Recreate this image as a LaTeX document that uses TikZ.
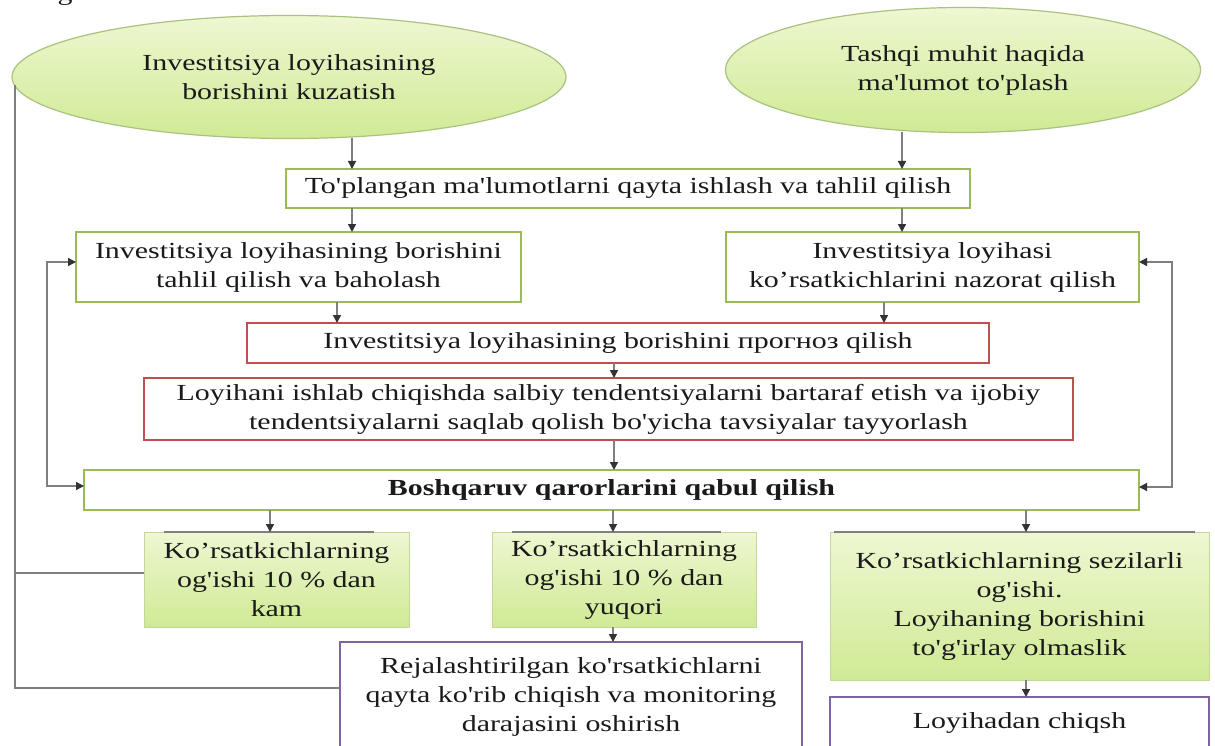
\documentclass[tikz,border=0pt]{standalone}
\usepackage{fontspec}
\newfontfamily\uzfont[FakeStretch=1.3]{Liberation Serif}
\usetikzlibrary{arrows.meta,shapes.geometric}
\definecolor{grn}{HTML}{9BBB59}
\definecolor{redb}{HTML}{C0504D}
\definecolor{pur}{HTML}{8064A2}
\definecolor{lnc}{HTML}{7F7F7F}
\definecolor{txt}{HTML}{1A1A1A}
\definecolor{gtop}{HTML}{EEF7D2}
\definecolor{gbot}{HTML}{D0EA95}
\definecolor{eline}{HTML}{A9C27E}
\begin{document}
\begin{tikzpicture}[x=1pt,y=-1pt,
 every node/.style={font=\uzfont\fontsize{23}{29}\selectfont, text=txt, inner sep=0pt, outer sep=0pt, align=center},
 ell/.style={ellipse, draw=eline, line width=1.2pt, top color=gtop, bottom color=gbot},
 wbox/.style={rectangle, draw=grn, line width=2pt, fill=white},
 rbox/.style={rectangle, draw=redb, line width=1.8pt, fill=white},
 pbox/.style={rectangle, draw=pur, line width=2pt, fill=white},
 gbox/.style={rectangle, draw=grn!60!white, line width=1pt, top color=gtop, bottom color=gbot},
 tip/.tip={Triangle[length=8pt,width=8pt,color=black!80]},
 arr/.style={draw=lnc, line width=1.5pt, -tip},
 arrb/.style={draw=lnc, line width=1.5pt, tip-tip},
 ln/.style={draw=lnc, line width=1.5pt},
 topln/.style={draw=black!50, line width=2pt}]
\fill[white] (0,0) rectangle (1215,746);
\useasboundingbox (0,0) rectangle (1215,746);
\node[anchor=base] (frag) at (65,1) {g};
% ellipses
\node[ell, minimum width=554pt, minimum height=123pt] (lell) at (289,77) {Investitsiya loyihasining\\borishini kuzatish};
\node[ell, minimum width=475pt, minimum height=125pt] (rell) at (963,70) {Tashqi muhit haqida\\ma'lumot to'plash};
% boxes
\node[wbox, minimum width=684pt, minimum height=39pt] (top) at (628,188.5) {To'plangan ma'lumotlarni qayta ishlash va tahlil qilish};
\node[wbox, minimum width=445pt, minimum height=70pt] (lbox) at (298.5,267) {Investitsiya loyihasining borishini\\tahlil qilish va baholash};
\node[wbox, minimum width=413pt, minimum height=70pt] (rbox) at (932.5,267) {Investitsiya loyihasi\\ko’rsatkichlarini nazorat qilish};
\node[rbox, minimum width=742pt, minimum height=40pt] (prog) at (618,343) {Investitsiya loyihasining borishini прогноз qilish};
\node[rbox, minimum width=929pt, minimum height=62pt] (loyi) at (608.5,409) {Loyihani ishlab chiqishda salbiy tendentsiyalarni bartaraf etish va ijobiy\\tendentsiyalarni saqlab qolish bo'yicha tavsiyalar tayyorlash};
\node[wbox, minimum width=1055pt, minimum height=40pt] (bosh) at (611.5,490) {\bfseries Boshqaruv qarorlarini qabul qilish};
\node[gbox, minimum width=265pt, minimum height=95pt] (kam) at (276.5,579.5) {Ko’rsatkichlarning\\og'ishi 10 \% dan\\kam};
\node[gbox, minimum width=264pt, minimum height=95pt] (yuq) at (624,579.5) {Ko’rsatkichlarning\\og'ishi 10 \% dan\\yuqori};
\node[gbox, minimum width=379pt, minimum height=148pt] (sez) at (1019.5,606) {Ko’rsatkichlarning sezilarli\\og'ishi.\\Loyihaning borishini\\to'g'irlay olmaslik};
\node[pbox, minimum width=462pt, minimum height=110pt] (rej) at (571,697) {Rejalashtirilgan ko'rsatkichlarni\\qayta ko'rib chiqish va monitoring\\darajasini oshirish};
\node[pbox, minimum width=379pt, minimum height=52pt] (lch) at (1019.5,723) {Loyihadan chiqsh};
% gray top edges of green boxes
\draw[topln] ([xshift=20pt]kam.north west) -- ([xshift=-35pt]kam.north east);
\draw[topln] ([xshift=20pt]yuq.north west) -- ([xshift=-35pt]yuq.north east);
\draw[topln] ([xshift=4pt]sez.north west) -- ([xshift=-14pt]sez.north east);
% connectors
\draw[arr] ([xshift=63pt]lell.south) -- ([xshift=63pt]lell.south |- top.north);
\draw[arr] ([xshift=-61pt]rell.south) -- ([xshift=-61pt]rell.south |- top.north);
\draw[arr] ([xshift=-276pt]top.south) -- ([xshift=-276pt]top.south |- lbox.north);
\draw[arr] ([xshift=274pt]top.south) -- ([xshift=274pt]top.south |- rbox.north);
\draw[arr] ([xshift=38.5pt]lbox.south) -- ([xshift=38.5pt]lbox.south |- prog.north);
\draw[arr] ([xshift=-48.5pt]rbox.south) -- ([xshift=-48.5pt]rbox.south |- prog.north);
\draw[arr] ([xshift=-4pt]prog.south) -- ([xshift=-4pt]prog.south |- loyi.north);
\draw[arr] ([xshift=5.5pt]loyi.south) -- ([xshift=5.5pt]loyi.south |- bosh.north);
\draw[arr] ([xshift=-6.5pt]kam.north |- bosh.south) -- ([xshift=-6.5pt]kam.north);
\draw[arr] ([xshift=-11pt]yuq.north |- bosh.south) -- ([xshift=-11pt]yuq.north);
\draw[arr] ([xshift=6.5pt]sez.north |- bosh.south) -- ([xshift=6.5pt]sez.north);
\draw[arr] ([xshift=-11pt]yuq.south) -- ([xshift=-11pt]yuq.south |- rej.north);
\draw[arr] ([xshift=6.5pt]sez.south) -- ([xshift=6.5pt]sez.south |- lch.north);
% feedback loops
\draw[arrb] ([yshift=5pt]lbox.west) -- ++(-29,0) |- ([yshift=4pt]bosh.west);
\draw[arrb] ([yshift=5pt]rbox.east) -- ++(33,0) |- ([yshift=3pt]bosh.east);
% outer left line
\draw[ln] ([xshift=3pt,yshift=-8pt]lell.west) |- ([yshift=9pt]rej.west);
\draw[ln] ([yshift=6.5pt]kam.west) -- ++(-129,0);
\end{tikzpicture}
\end{document}
